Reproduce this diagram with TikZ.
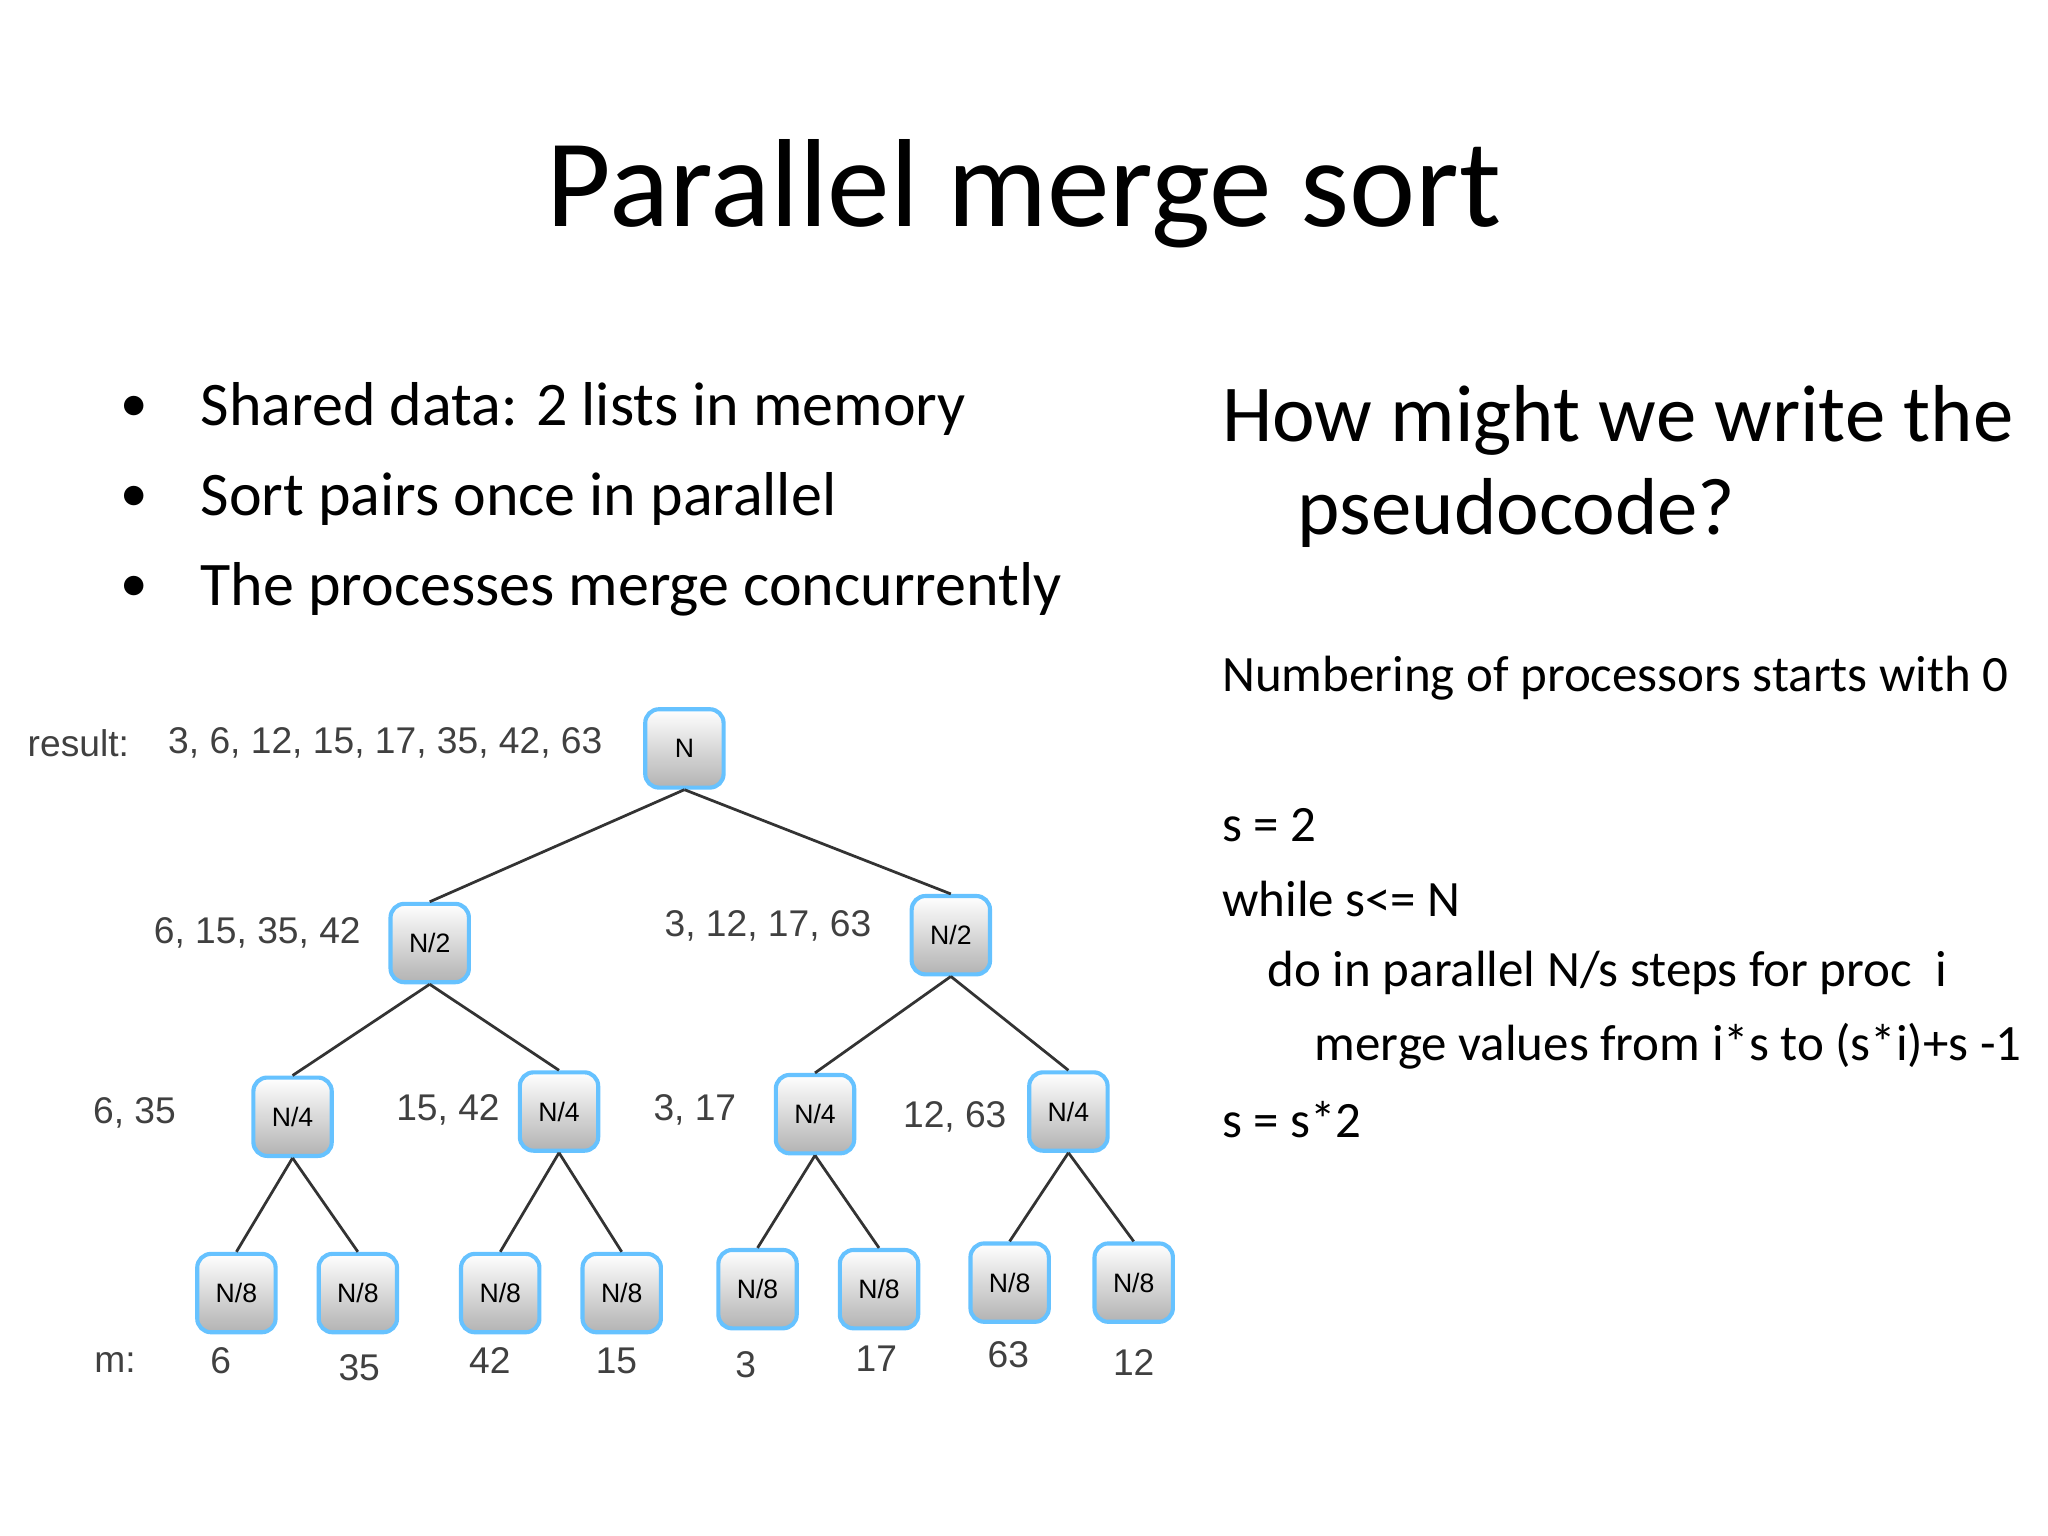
\documentclass[tikz,border=0pt]{standalone}
\usepackage{fontspec}
\setmainfont{Carlito}
\newfontfamily\arial{Liberation Sans}
\begin{document}
\begin{tikzpicture}[x=0.1mm,y=-0.1mm,
 box/.style={draw=blue!40!cyan!60!white, line width=0.9pt, rounded corners=3pt, minimum width=6mm, minimum height=6mm, top color=white, bottom color=black!30, font=\arial\fontsize{5.8}{7}\selectfont, inner sep=0pt},
 lab/.style={font=\arial\fontsize{8.1}{10}\selectfont, text=black!75},
 txt/.style={anchor=west, inner sep=0pt, font=\fontsize{11.1}{13}\selectfont},
 edge/.style={draw=black!80, line width=0.6pt}]
\useasboundingbox (0,0) rectangle (1568,1176);
\node (title) at (784,148) {\fontsize{27.3}{32}\selectfont Parallel merge sort};
\foreach \y/\t [count=\i] in {313/Shared data: 2 lists in memory,382/Sort pairs once in parallel,451/The processes merge concurrently}{
 \node (b\i) at (103,\y) {\fontsize{12}{15}\selectfont\textbullet};
 \node[anchor=west,inner sep=0pt] (bt\i) at (153,\y) {\fontsize{13.5}{16}\selectfont \t};}
\node[anchor=west,inner sep=0pt] (q1) at (935,322) {\fontsize{17.6}{21}\selectfont How might we write the};
\node[anchor=west,inner sep=0pt] (q2) at (993,393) {\fontsize{17.6}{21}\selectfont pseudocode?};
\node[txt] (p0) at (935,519) {Numbering of processors starts with 0};
\node[txt] (p1) at (935,632) {s = 2};
\node[txt] (p2) at (935,688) {while s<= N};
\node[txt] (p3) at (970,745) {do in parallel N/s steps for proc\ \ i};
\node[txt] (p4) at (1006,801) {merge values from i*s to (s*i)+s -1};
\node[txt] (p5) at (935,857) {s = s*2};
% tree
\node[box] (r) at (524,573) {N};
\node[box] (a1) at (329,722) {N/2};
\node[box] (a2) at (728,716) {N/2};
\node[box] (c1) at (224,855) {N/4};
\node[box] (c2) at (428,851) {N/4};
\node[box] (c3) at (624,853) {N/4};
\node[box] (c4) at (818,851) {N/4};
\foreach \x/\y [count=\i] in {181/990,274/990,383/990,476/990,580/987,673/987,773/982,868/982}
 \node[box] (d\i) at (\x,\y) {N/8};
\draw[edge] (r.south) -- (a1.north); \draw[edge] (r.south) -- (a2.north);
\draw[edge] (a1.south) -- (c1.north); \draw[edge] (a1.south) -- (c2.north);
\draw[edge] (a2.south) -- (c3.north); \draw[edge] (a2.south) -- (c4.north);
\draw[edge] (c1.south) -- (d1.north); \draw[edge] (c1.south) -- (d2.north);
\draw[edge] (c2.south) -- (d3.north); \draw[edge] (c2.south) -- (d4.north);
\draw[edge] (c3.south) -- (d5.north); \draw[edge] (c3.south) -- (d6.north);
\draw[edge] (c4.south) -- (d7.north); \draw[edge] (c4.south) -- (d8.north);
\node[lab] (lr) at (60,569) {result:};
\node[lab] (lr2) at (295,569) {3, 6, 12, 15, 17, 35, 42, 63};
\node[lab] (l1) at (197,714) {6, 15, 35, 42};
\node[lab] (l2) at (588,709) {3, 12, 17, 63};
\node[lab] (l3) at (103,852) {6, 35};
\node[lab] (l4) at (343,850) {15, 42};
\node[lab] (l5) at (532,850) {3, 17};
\node[lab] (l6) at (731,855) {12, 63};
\node[lab] (lm) at (88,1043) {m:};
\foreach \x/\y/\t [count=\i] in {169/1042/6,275/1047/35,375/1042/42,472/1042/15,571/1045/3,671/1040/17,772/1037/63,868/1043/12}
 \node[lab] (m\i) at (\x,\y) {\t};
\end{tikzpicture}
\end{document}
